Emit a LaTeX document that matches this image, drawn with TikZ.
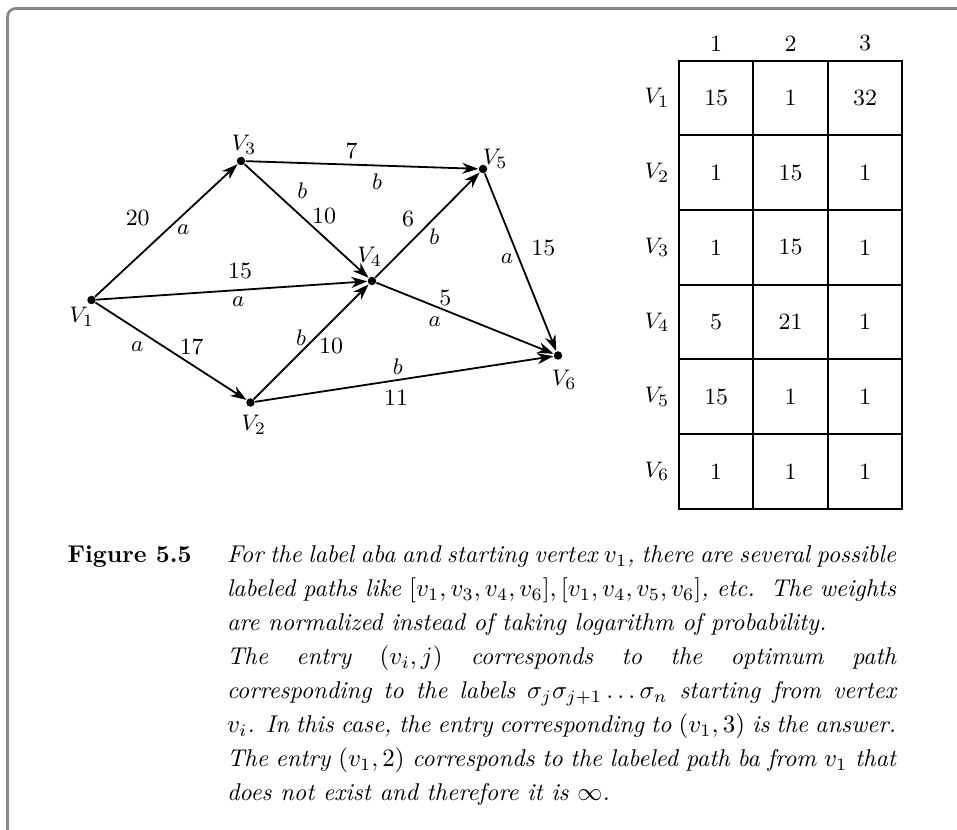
\documentclass[tikz,border=0pt]{standalone}
\usetikzlibrary{arrows.meta}
\definecolor{framegray}{RGB}{136,136,136}
\tikzset{
  vtx/.style={circle, fill=black, inner sep=0pt, minimum size=3.4pt},
  link/.style={line width=0.72pt, -{Stealth[length=6.4pt,width=4.4pt,inset=2pt]}},
  lbl/.style={inner sep=0pt, font=\fontsize{9.3}{11}\selectfont},
  cellval/.style={inner sep=0pt, font=\fontsize{9.3}{11}\selectfont},
  gridline/.style={line width=0.8pt, line cap=rect},
  capline/.style={anchor=base west, inner sep=0pt, font=\fontsize{9.7}{13.6}\selectfont\itshape},
}
\begin{document}
\begin{tikzpicture}[x=0.4pt,y=-0.4pt]
\useasboundingbox (0,0) rectangle (957,830);
% frame
\draw[framegray, line width=1.1pt, rounded corners=3.3pt] (975,8.5) -- (7.5,8.5) -- (7.5,845);

% vertices
\node[vtx] (v1) at (91.5,300) {};
\node[vtx] (v2) at (250.5,402.5) {};
\node[vtx] (v3) at (241,161) {};
\node[vtx] (v4) at (372,281) {};
\node[vtx] (v5) at (483,169) {};
\node[vtx] (v6) at (558,355.5) {};

% vertex labels
\node[lbl] (l1) at (81.7,316.7) {$V_1$};
\node[lbl] (l2) at (253.7,425) {$V_2$};
\node[lbl] (l3) at (244,145) {$V_3$};
\node[lbl] (l4) at (369.7,256.7) {$V_4$};
\node[lbl] (l5) at (495.3,158.7) {$V_5$};
\node[lbl] (l6) at (564.3,380) {$V_6$};

% edges
\draw[link] (v1) -- (v3);
\draw[link] (v1) -- (v4);
\draw[link] (v1) -- (v2);
\draw[link] (v3) -- (v5);
\draw[link] (v3) -- (v4);
\draw[link] (v2) -- (v4);
\draw[link] (v2) -- (v6);
\draw[link] (v4) -- (v5);
\draw[link] (v4) -- (v6);
\draw[link] (v5) -- (v6);

% edge labels
\node[lbl] (w13) at (137.7,218) {20};
\node[lbl] (s13) at (183.3,229.3) {$a$};
\node[lbl] (w14) at (240,271) {15};
\node[lbl] (s14) at (238.3,301.7) {$a$};
\node[lbl] (s12) at (137.3,346.7) {$a$};
\node[lbl] (w12) at (191.7,346.7) {17};
\node[lbl] (s34) at (302.3,190.3) {$b$};
\node[lbl] (w34) at (324,216) {10};
\node[lbl] (w35) at (351.7,150.7) {7};
\node[lbl] (s35) at (377,181.7) {$b$};
\node[lbl] (w45) at (408,219.3) {6};
\node[lbl] (s45) at (434.3,237) {$b$};
\node[lbl] (s56) at (507,259) {$a$};
\node[lbl] (w56) at (543.3,247.7) {15};
\node[lbl] (w46) at (445.3,298) {5};
\node[lbl] (s46) at (434.7,321.7) {$a$};
\node[lbl] (s24) at (301,338) {$b$};
\node[lbl] (w24) at (331,345.7) {10};
\node[lbl] (s26) at (397.7,366.7) {$b$};
\node[lbl] (w26) at (396,398) {11};

% table grid
\foreach \x in {679,753.4,827.8,902.2} \draw[gridline] (\x,60.7) -- (\x,508.9);
\foreach \y in {60.7,135.4,210.1,284.8,359.5,434.2,508.9} \draw[gridline] (679,\y) -- (902.2,\y);
% table header
\node[lbl] (h1) at (716.2,43.3) {1};
\node[lbl] (h2) at (790.6,43.3) {2};
\node[lbl] (h3) at (865.0,43.3) {3};
% table rows
\foreach \r/\y/\a/\b/\c in {1/98.05/15/1/32, 2/172.75/1/15/1, 3/247.45/1/15/1, 4/322.15/5/21/1, 5/396.85/15/1/1, 6/471.55/1/1/1}{
  \node[lbl] (r\r) at (657,\y) {$V_\r$};
  \node[cellval] (c\r a) at (716.2,\y) {\a};
  \node[cellval] (c\r b) at (790.6,\y) {\b};
  \node[cellval] (c\r c) at (865.0,\y) {\c};
}

% caption
\node[anchor=base east, inner sep=0pt, font=\fontsize{9.7}{13.6}\selectfont\bfseries] (fig) at (192,562.5) {Figure 5.5};
\node[capline] (cap1) at (226.5,562.5) {\makebox[267.6pt][s]{For the label aba and starting vertex $v_1$, there are several possible}};
\node[capline] (cap2) at (226.5,596.5) {\makebox[267.6pt][s]{labeled paths like $[v_1,v_3,v_4,v_6],[v_1,v_4,v_5,v_6]$, etc.\ \ The weights}};
\node[capline] (cap3) at (226.5,630.5) {are normalized instead of taking logarithm of probability.};
\node[capline] (cap4) at (226.5,664.5) {\makebox[267.6pt][s]{The entry $(v_i,j)$ corresponds to the optimum path}};
\node[capline] (cap5) at (226.5,698.5) {\makebox[267.6pt][s]{corresponding to the labels $\sigma_j\sigma_{j+1}\ldots\sigma_n$ starting from vertex}};
\node[capline] (cap6) at (226.5,732.5) {\makebox[267.6pt][s]{$v_i$. In this case, the entry corresponding to $(v_1,3)$ is the answer.}};
\node[capline] (cap7) at (226.5,766.5) {\makebox[267.6pt][s]{The entry $(v_1,2)$ corresponds to the labeled path ba from $v_1$ that}};
\node[capline] (cap8) at (226.5,800.5) {does not exist and therefore it is $\infty$.};
\end{tikzpicture}
\end{document}
